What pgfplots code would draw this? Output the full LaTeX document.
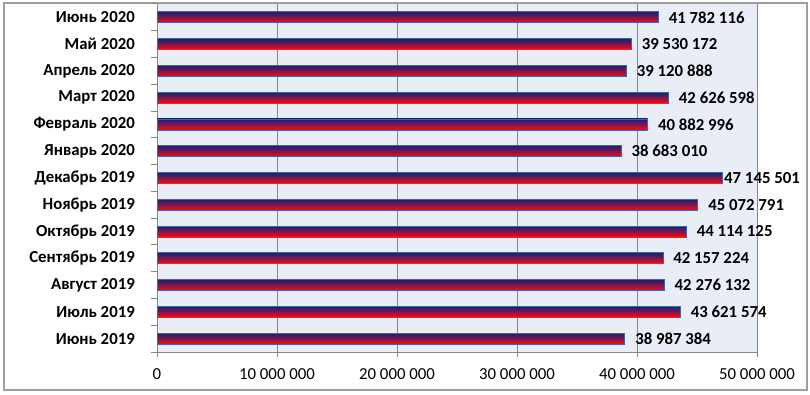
\documentclass[border=0pt]{standalone}
\usepackage{pgfplots}
\pgfplotsset{compat=1.18}
\usepackage{fontspec}
\setmainfont{Carlito}
\definecolor{bgc}{HTML}{E9EDF5}
\definecolor{gridc}{HTML}{868686}
\definecolor{barborder}{HTML}{3A68A0}
\definecolor{bartop}{HTML}{1C1C78}
\definecolor{barmid}{HTML}{8A0E86}
\definecolor{barbot}{HTML}{FF0A0A}
\newcommand{\pull}{\kern-9bp}
\newcommand{\fs}{\fontsize{16.8bp}{19bp}\selectfont}
\pgfplotsset{mybar/.style={xbar, bar width=11bp, bar shift=0pt, draw=barborder, line width=0.8bp,
  top color=bartop, middle color=barmid, bottom color=barbot,
  point meta=explicit symbolic, nodes near coords,
  nodes near coords style={font=\fs\bfseries, anchor=west, inner sep=0pt, xshift=10bp, text=black}}}
\begin{document}
\begin{tikzpicture}[x=1bp,y=1bp]
\path[use as bounding box] (0,0) rectangle (810,394);
\draw[gray!75, line width=1.2bp] (4,4) rectangle (807,391);
\begin{axis}[
  at={(157bp,42bp)}, anchor=south west,
  scale only axis, width=600bp, height=348bp,
  xmin=0, xmax=50000000, ymin=-0.5, ymax=12.5,
  scaled x ticks=false,
  axis background/.style={fill=bgc},
  axis x line*=bottom, axis y line*=left,
  axis line style={gridc, line width=1bp},
  xtick={0,10000000,20000000,30000000,40000000,50000000},
  xticklabels={0,\mbox{10 000 000},\mbox{20 000 000},\mbox{30 000 000},\mbox{40 000 000},\mbox{50 000 000}},
  xmajorgrids, major grid style={gridc, line width=1bp},
  ytick={0,1,...,12},
  yticklabels={Июнь 2019,Июль 2019,Август 2019,Сентябрь 2019,Октябрь 2019,Ноябрь 2019,Декабрь 2019,Январь 2020,Февраль 2020,Март 2020,Апрель 2020,Май 2020,Июнь 2020},
  minor ytick={-0.5,0.5,...,12.5},
  tick align=outside,
  major tick length=5bp, minor tick length=6bp,
  tick style={gridc, line width=1bp},
  major y tick style={draw=none},
  yticklabel style={font=\fs\bfseries, inner sep=0pt, anchor=east, xshift=-17bp},
  xticklabel style={font=\fs, inner sep=0pt, anchor=north, yshift=-11bp},
  clip=false,
]
\addplot[mybar] coordinates {(38987384,0) [38 987 384]};
\addplot[mybar] coordinates {(43621574,1) [43 621 574]};
\addplot[mybar] coordinates {(42276132,2) [42 276 132]};
\addplot[mybar] coordinates {(42157224,3) [42 157 224]};
\addplot[mybar] coordinates {(44114125,4) [44 114 125]};
\addplot[mybar] coordinates {(45072791,5) [45 072 791]};
\addplot[mybar] coordinates {(47145501,6) [\pull 47 145 501]};
\addplot[mybar] coordinates {(38683010,7) [38 683 010]};
\addplot[mybar] coordinates {(40882996,8) [40 882 996]};
\addplot[mybar] coordinates {(42626598,9) [42 626 598]};
\addplot[mybar] coordinates {(39120888,10) [39 120 888]};
\addplot[mybar] coordinates {(39530172,11) [39 530 172]};
\addplot[mybar] coordinates {(41782116,12) [41 782 116]};
\end{axis}
\end{tikzpicture}
\end{document}
